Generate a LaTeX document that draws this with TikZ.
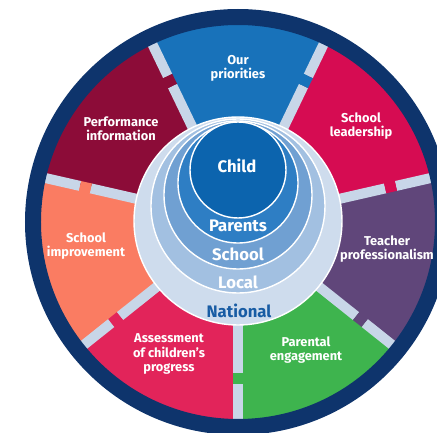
\documentclass[tikz,border=0pt]{standalone}
\usepackage{fontspec}
\setmainfont{Fira Sans}
\usepackage{xcolor}
\usepackage{tikz}
\usetikzlibrary{positioning}
\definecolor{wnavy}{RGB}{14,52,108}
\definecolor{wsep}{RGB}{200,214,232}
\definecolor{cprio}{RGB}{24,114,186}
\definecolor{cperf}{RGB}{140,12,56}
\definecolor{clead}{RGB}{214,12,82}
\definecolor{cimpr}{RGB}{250,124,98}
\definecolor{cteach}{RGB}{96,70,122}
\definecolor{cassess}{RGB}{226,36,90}
\definecolor{cpar}{RGB}{62,180,78}
\definecolor{rnat}{RGB}{206,220,237}
\definecolor{rloc}{RGB}{162,192,225}
\definecolor{rsch}{RGB}{112,160,210}
\definecolor{rpar}{RGB}{46,126,196}
\definecolor{rchild}{RGB}{12,100,174}
\definecolor{tnat}{RGB}{24,92,164}

\begin{document}
\begin{tikzpicture}[x=0.02cm,y=0.02cm,
  wedgelbl/.style={text=white,font=\bfseries\fontsize{7.3}{8}\selectfont,align=center},
  ringlbl/.style={text=white,font=\bfseries\fontsize{9.5}{11}\selectfont},
  sepbar/.style={wsep,line width=5.7pt},
  level/.style={draw=white,line width=0.8pt}]
\useasboundingbox (-238,-211) rectangle (199,222);
% wedges, each starting at its separator
\foreach \a/\c in {270/cpar,321.43/cteach,12.86/clead,64.29/cprio,115.71/cperf,167.14/cimpr,218.57/cassess}
  \fill[\c] (0,0) -- (\a:200) arc[start angle=\a,delta angle=51.43,radius=200] -- cycle;
% separators with a notch
\foreach \a/\c in {270/cpar,321.43/cteach,12.86/clead,64.29/cprio,115.71/cperf,167.14/cimpr,218.57/cassess}{
  \draw[sepbar] (\a:95) -- (\a:151);
  \draw[sepbar] (\a:162) -- (\a:200);
  \draw[\c,line width=5.7pt] (\a:151) -- (\a:162);
}
\draw[wnavy,line width=0.32cm] (0,0) circle[radius=205];
% nested levels
\filldraw[level,fill=rnat] (0,1) circle[radius=104];
\filldraw[level,fill=rloc] (0,16) circle[radius=87];
\filldraw[level,fill=rsch] (0,27) circle[radius=74];
\filldraw[level,fill=rpar] (0,39) circle[radius=60];
\filldraw[level,fill=rchild] (0,52) circle[radius=48];
\node[ringlbl] (child) at (-1,56) {Child};
\node[ringlbl] (parents) at (0,-4) {Parents};
\node[ringlbl] (school) at (0,-32) {School};
\node[ringlbl] (local) at (0,-60) {Local};
\node[ringlbl,text=tnat] (national) at (1,-89) {National};
% wedge labels
\node[wedgelbl] (prio) at (0,154) {Our\\priorities};
\node[wedgelbl] (perf) at (-117,93) {Performance\\information};
\node[wedgelbl] (lead) at (123,96) {School\\leadership};
\node[wedgelbl] (impr) at (-152,-24) {School\\improvement};
\node[wedgelbl] (teach) at (149,-27) {Teacher\\professionalism};
\node[wedgelbl] (assess) at (-69,-132) {Assessment\\of children's\\progress};
\node[wedgelbl] (paren) at (68,-128) {Parental\\engagement};
\end{tikzpicture}
\end{document}
